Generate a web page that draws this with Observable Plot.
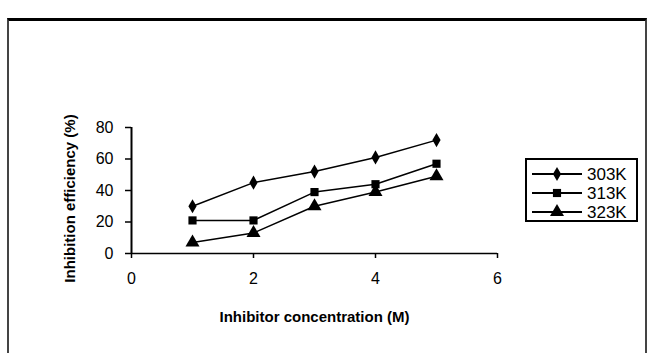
<!DOCTYPE html>
<html>
<head>
<meta charset="utf-8">
<script src="https://cdn.jsdelivr.net/npm/d3@7"></script>
<script src="https://cdn.jsdelivr.net/npm/@observablehq/plot@0.6"></script>
<style>
  html, body { margin: 0; padding: 0; background: #fff; }
  #wrap { position: relative; width: 653px; height: 353px; overflow: hidden; background: #fff; font-family: "Liberation Sans", Arial, sans-serif; }
  #frame { position: absolute; left: 7px; top: 18px; width: 636px; height: 400px; border-top: 3px solid #000; border-left: 2px solid #444; border-right: 2px solid #444; }
  #chart { position: absolute; left: 0; top: 0; }
  #legend { position: absolute; left: 0; top: 0; }
</style>
</head>
<body>
<div id="wrap">
  <div id="frame"></div>
  <div id="chart"></div>
  <svg id="legend" width="653" height="353"></svg>
</div>
<script>
const concentrations = [1, 2, 3, 4, 5];
const series = ["303K", "313K", "323K"];
const eff303 = [30, 45, 52, 61, 72];
const eff313 = [21, 21, 39, 44, 57];
const eff323 = [7, 13, 30, 39, 49];
const xTicks = [0, 2, 4, 6];
const yTicks = [0, 20, 40, 60, 80];
const xLabel = "Inhibitor concentration (M)";
const yLabel = "Inhibition efficiency (%)";
const symbols = ["diamond", "square", "triangle"];
const symbolR = [4.3, 4.6, 5.2];

const values = [eff303, eff313, eff323];
const data = [];
series.forEach((s, i) => concentrations.forEach((c, j) => data.push({series: s, x: c, y: values[i][j], r: symbolR[i]})));

const chart = Plot.plot({
  width: 653,
  height: 353,
  marginLeft: 131,
  marginRight: 156,
  marginTop: 127,
  marginBottom: 100,
  style: {fontFamily: "'Liberation Sans', Arial, sans-serif", fontSize: "16px", background: "transparent", color: "#000"},
  x: {domain: [0, 6]},
  y: {domain: [0, 80]},
  r: {type: "identity"},
  symbol: {domain: series, range: symbols},
  marks: [
    Plot.axisX({ticks: xTicks, tickFormat: d3.format("d"), tickSize: 5, tickPadding: 14, strokeWidth: 1.5, label: null, fontSize: 16}),
    Plot.axisY({ticks: yTicks, tickFormat: d3.format("d"), tickSize: 6, tickPadding: 12, strokeWidth: 1.5, label: null, fontSize: 16}),
    Plot.ruleY([0], {stroke: "#000", strokeWidth: 1.5}),
    Plot.ruleX([0], {stroke: "#000", strokeWidth: 2}),
    Plot.line(data, {x: "x", y: "y", z: "series", stroke: "#000", strokeWidth: 1.5}),
    Plot.dot(data, {x: "x", y: "y", symbol: "series", r: "r", fill: "#000", stroke: "none"}),
    Plot.text([xLabel], {frameAnchor: "bottom", dy: 68, text: d => d, fontWeight: "bold", fontSize: 15}),
    Plot.text([yLabel], {frameAnchor: "left", textAnchor: "middle", dx: -61, dy: 8, rotate: -90, text: d => d, fontWeight: "bold", fontSize: 15})
  ]
});
document.getElementById("chart").appendChild(chart);

// Legend
const lg = d3.select("#legend");
lg.append("rect").attr("x", 526).attr("y", 159).attr("width", 111).attr("height", 62)
  .attr("fill", "#fff").attr("stroke", "#000").attr("stroke-width", 2);
const rowsY = [174, 193, 212];
const d3sym = {diamond: d3.symbolDiamond, square: d3.symbolSquare, triangle: d3.symbolTriangle};
series.forEach((s, i) => {
  const y = rowsY[i];
  lg.append("line").attr("x1", 532).attr("x2", 582).attr("y1", y).attr("y2", y).attr("stroke", "#000").attr("stroke-width", 2);
  const sz = symbolR[i] * symbolR[i] * Math.PI;
  lg.append("path").attr("d", d3.symbol(d3sym[symbols[i]], sz)()).attr("transform", `translate(557,${y})`).attr("fill", "#000");
  lg.append("text").attr("x", 587).attr("y", y).attr("dy", "0.35em").attr("font-size", 17)
    .attr("font-family", "'Liberation Sans', Arial, sans-serif").text(s);
});
</script>
</body>
</html>
